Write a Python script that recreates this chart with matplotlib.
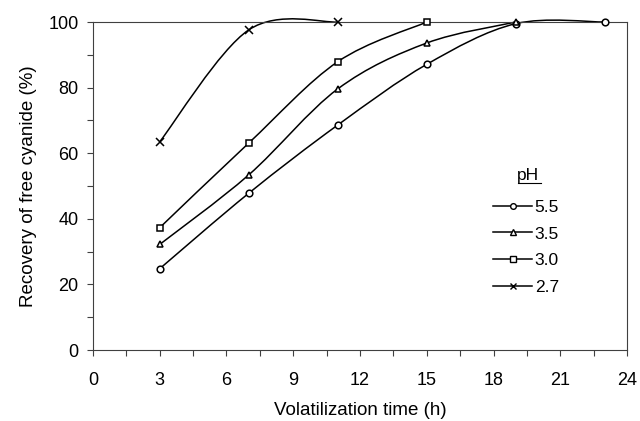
import matplotlib

matplotlib.use("Agg")
import matplotlib.pyplot as plt
import numpy as np
from matplotlib.lines import Line2D
from matplotlib.patches import PathPatch
from matplotlib.path import Path
from matplotlib.ticker import MultipleLocator

plt.rcParams["font.family"] = ["Liberation Sans", "DejaVu Sans"]

# --- data ----------------------------------------------------------------
time_55 = [3, 7, 11, 15, 19, 23]
rec_55 = [24.8, 47.8, 68.6, 87.1, 99.5, 100.0]
time_35 = [3, 7, 11, 15, 19]
rec_35 = [32.2, 53.4, 79.6, 93.6, 100.0]
time_30 = [3, 7, 11, 15]
rec_30 = [37.3, 63.1, 87.9, 100.0]
time_27 = [3, 7, 11]
rec_27 = [63.5, 97.6, 100.0]

labels = ["5.5", "3.5", "3.0", "2.7"]
markers = ["o", "^", "s", "x"]


def smooth_path(x, y):
    """Excel-style smoothed line: cubic Bezier through the points."""
    p = np.column_stack([x, y]).astype(float)
    verts = [p[0]]
    codes = [Path.MOVETO]
    n = len(p)
    for i in range(n - 1):
        p0 = p[i - 1] if i > 0 else p[i]
        p1, p2 = p[i], p[i + 1]
        p3 = p[i + 2] if i + 2 < n else p[i + 1]
        verts += [p1 + (p2 - p0) / 6.0, p2 - (p3 - p1) / 6.0, p2]
        codes += [Path.CURVE4] * 3
    return Path(verts, codes)


fig = plt.figure(figsize=(6.4, 4.21), dpi=100)
ax = fig.add_axes([0.1453, 0.1686, 0.8344, 0.7791])

series = [(time_55, rec_55), (time_35, rec_35), (time_30, rec_30), (time_27, rec_27)]
handles = []
for (x, y), m, lab in zip(series, markers, labels):
    ax.add_patch(PathPatch(smooth_path(x, y), fill=False, ec="black", lw=1.1,
                           zorder=2, clip_on=False))
    ms = 5.5 if m == "x" else 4.8
    ax.plot(x, y, ls="none", marker=m, ms=ms, mfc="white", mec="black",
            mew=1.1, zorder=3, clip_on=False)
    handles.append(Line2D([], [], color="black", lw=1.1, marker=m,
                          ms=ms * 0.85, mfc="white", mec="black", mew=1.0,
                          label=lab))

ax.set_xlim(0, 24)
ax.set_ylim(0, 100)
ax.xaxis.set_major_locator(MultipleLocator(3))
ax.xaxis.set_minor_locator(MultipleLocator(1.5))
ax.yaxis.set_major_locator(MultipleLocator(20))
ax.yaxis.set_minor_locator(MultipleLocator(10))
ax.tick_params(which="both", direction="out", length=4.5, width=0.8,
               color="#404040", labelsize=13)
ax.tick_params(axis="x", pad=11)
ax.tick_params(axis="y", pad=6)
for s in ax.spines.values():
    s.set_color("#404040")
    s.set_linewidth(0.8)

ax.set_xlabel("Volatilization time (h)", fontsize=13.5, labelpad=10)
ax.set_ylabel("Recovery of free cyanide (%)", fontsize=13.5, labelpad=8)

leg = ax.legend(handles=handles, loc="upper left", bbox_to_anchor=(0.749, 0.458),
                frameon=False, fontsize=12.5, borderpad=0, borderaxespad=0,
                handlelength=2.25, handletextpad=0.15, labelspacing=0.66)

ax.text(0.8146, 0.5335, "pH", transform=ax.transAxes, fontsize=12.5,
        ha="center", va="center")
ax.plot([0.796, 0.839], [0.508, 0.508], transform=ax.transAxes, color="black",
        lw=0.8, clip_on=False)

fig.savefig("out.png", dpi=100)
